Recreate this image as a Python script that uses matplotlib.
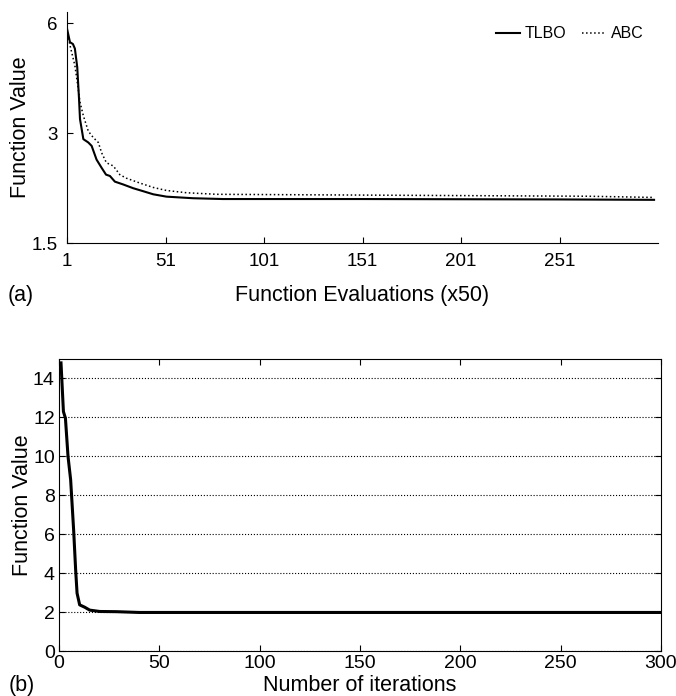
import numpy as np
import matplotlib
matplotlib.use("Agg")
from matplotlib import pyplot as plt
from matplotlib.ticker import FixedLocator, NullLocator

plt.rcParams['font.family'] = ['Liberation Sans', 'DejaVu Sans']

# (a) convergence, function evaluations (x50)
tlbo_x = [1, 2.5, 4, 5, 6.2, 7.1, 7.6, 9.3, 11.8, 13.5, 16, 18.6, 20.8, 22.8, 25.3,
          29.6, 34.6, 39.7, 44.8, 51.5, 65, 80, 150, 250, 299]
tlbo_y = [5.81, 5.33, 5.27, 5.12, 4.55, 3.73, 3.28, 2.89, 2.83, 2.77, 2.54, 2.41, 2.31,
          2.29, 2.21, 2.17, 2.12, 2.08, 2.04, 2.01, 1.99, 1.98, 1.98, 1.975, 1.97]
abc_x = [1, 2.5, 5, 6.7, 7.6, 9.3, 11.8, 14.3, 16.9, 18.6, 21, 24.5, 27.8, 31, 38,
         44.8, 51.5, 61.7, 77, 150, 266, 299]
abc_y = [5.75, 5.23, 4.6, 3.97, 3.65, 3.35, 3.04, 2.92, 2.83, 2.65, 2.49, 2.44, 2.31,
         2.26, 2.19, 2.13, 2.09, 2.06, 2.04, 2.03, 2.015, 2.0]
a_xticks = [1, 51, 101, 151, 201, 251]
a_yticks = [1.5, 3, 6]
a_yticklabels = ['1.5', '3', '6']

# (b) convergence vs iterations
it_x = [1, 2.2, 3.2, 4.5, 5.8, 7.3, 8.3, 9, 10.3, 12.8, 15.3, 20.3, 28.6, 40, 100, 200, 300]
it_y = [14.8, 12.3, 11.96, 9.99, 8.8, 6.2, 4.16, 2.97, 2.37, 2.25, 2.1, 2.03, 2.02,
        1.98, 1.98, 1.98, 1.98]
b_xticks = [0, 50, 100, 150, 200, 250, 300]
b_yticks = [0, 2, 4, 6, 8, 10, 12, 14]

fig = plt.figure(figsize=(6.76, 6.96), dpi=100)

ax1 = fig.add_axes([67/676, 1-243/696, 591/676, 231/696])
ax1.plot(tlbo_x, tlbo_y, color='black', lw=1.5, label='TLBO')
ax1.plot(abc_x, abc_y, color='black', lw=1.1, ls=':', label='ABC')
ax1.set_yscale('log')
ax1.set_ylim(1.5, 6.45)
ax1.set_xlim(1, 301)
ax1.yaxis.set_major_locator(FixedLocator(a_yticks))
ax1.yaxis.set_minor_locator(NullLocator())
ax1.set_yticklabels(a_yticklabels)
ax1.set_xticks(a_xticks)
ax1.spines['top'].set_visible(False)
ax1.spines['right'].set_visible(False)
ax1.tick_params(direction='in', length=4, labelsize=13.5, pad=7)
ax1.set_xlabel('Function Evaluations (x50)', fontsize=15.5, labelpad=11)
ax1.set_ylabel('Function Value', fontsize=15.5, labelpad=0)
ax1.legend(loc='upper right', ncol=2, frameon=False, fontsize=11.5, handlelength=1.5,
           handletextpad=0.3, columnspacing=1.0, bbox_to_anchor=(1.0, 1.0))
fig.text(8/676, 1-296/696, '(a)', fontsize=15.5, va='center', ha='left')

ax2 = fig.add_axes([59/676, 1-651/696, 602/676, 292/696])
ax2.plot(it_x, it_y, color='black', lw=2.2)
ax2.set_xlim(0, 300)
ax2.set_ylim(0, 15)
ax2.set_xticks(b_xticks)
ax2.set_yticks(b_yticks)
ax2.yaxis.grid(True, ls=':', color='black', lw=0.8)
ax2.tick_params(direction='in', length=4, labelsize=14, top=True, right=True, pad=3)
ax2.set_xlabel('Number of iterations', fontsize=15.5, labelpad=2)
ax2.set_ylabel('Function Value', fontsize=15.5, labelpad=0)
fig.text(9/676, 1-686/696, '(b)', fontsize=15.5, va='center', ha='left')

fig.savefig('out.png', dpi=100)
